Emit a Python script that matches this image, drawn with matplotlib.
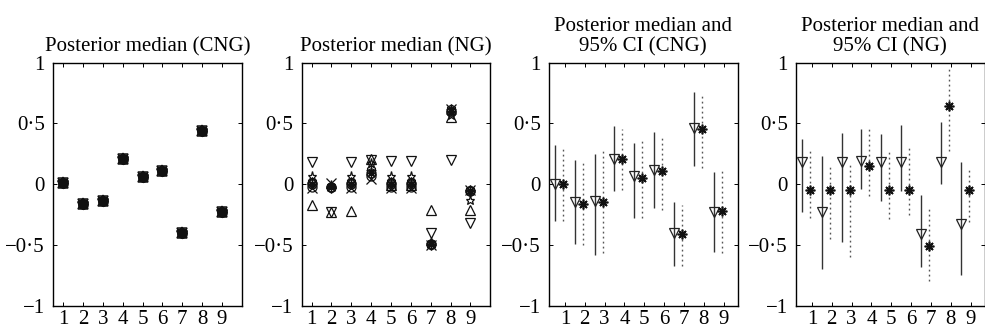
import numpy as np
import matplotlib
matplotlib.use("Agg")
import matplotlib.pyplot as plt
from matplotlib.ticker import FixedLocator, FixedFormatter

plt.rcParams['font.family'] = ['Liberation Serif', 'DejaVu Serif']
plt.rcParams['font.size'] = 15

# ---------------- data ----------------
positions = [1, 2, 3, 4, 5, 6, 7, 8, 9]
xtick_labels = ['1', '2', '3', '4', '5', '6', '7', '8', '9']
ytick_values = [-1, -0.5, 0, 0.5, 1]
ytick_labels = ['\u22121', '\u22120\u00b75', '0', '0\u00b75', '1']

titles = ['Posterior median (CNG)', 'Posterior median (NG)',
          'Posterior median and\n95% CI (CNG)', 'Posterior median and\n95% CI (NG)']

# Panel 1: CNG posterior medians (all marker series coincide)
cng_median = [0.01, -0.16, -0.14, 0.21, 0.06, 0.11, -0.40, 0.44, -0.23]

# Panel 2: NG posterior medians, one list per marker series
ng_vtri = [0.18, -0.23, 0.18, 0.20, 0.19, 0.19, -0.40, 0.20, -0.32]
ng_utri = [-0.17, -0.23, -0.22, 0.21, -0.01, -0.01, -0.21, 0.55, -0.21]
ng_pent = [0.07, -0.01, 0.07, 0.17, 0.07, 0.07, -0.48, 0.57, -0.13]
ng_circ = [0.00, -0.02, 0.00, 0.09, 0.00, 0.00, -0.49, 0.60, -0.06]
ng_hex = [0.02, -0.03, 0.02, 0.12, 0.02, 0.02, -0.50, 0.62, -0.05]
ng_diam = [-0.02, -0.02, -0.02, 0.07, -0.02, -0.02, -0.49, 0.59, -0.06]
ng_x = [-0.03, 0.01, -0.03, 0.04, -0.03, -0.03, -0.50, 0.62, -0.05]

# Panel 3: CNG medians and 95% CI (triangle = first method, asterisk = second)
cng_tri_med = [0.00, -0.15, -0.14, 0.21, 0.07, 0.12, -0.40, 0.46, -0.23]
cng_tri_lo = [-0.30, -0.49, -0.58, -0.06, -0.28, -0.20, -0.67, 0.15, -0.56]
cng_tri_hi = [0.32, 0.20, 0.25, 0.48, 0.34, 0.43, -0.15, 0.76, 0.10]
cng_ast_med = [0.00, -0.16, -0.15, 0.21, 0.05, 0.11, -0.41, 0.45, -0.22]
cng_ast_lo = [-0.30, -0.50, -0.57, -0.05, -0.28, -0.21, -0.67, 0.13, -0.57]
cng_ast_hi = [0.30, 0.20, 0.27, 0.45, 0.37, 0.39, -0.17, 0.73, 0.13]

# Panel 4: NG medians and 95% CI
ng_tri_med = [0.18, -0.23, 0.18, 0.19, 0.18, 0.18, -0.41, 0.18, -0.33]
ng_tri_lo = [-0.23, -0.70, -0.48, -0.04, -0.14, -0.06, -0.68, 0.00, -0.75]
ng_tri_hi = [0.37, 0.23, 0.42, 0.45, 0.41, 0.49, -0.09, 0.51, 0.18]
ng_ast_med = [-0.05, -0.05, -0.05, 0.15, -0.05, -0.05, -0.51, 0.64, -0.05]
ng_ast_lo = [-0.28, -0.45, -0.60, -0.10, -0.29, -0.25, -0.80, 0.27, -0.31]
ng_ast_hi = [0.27, 0.15, 0.16, 0.45, 0.26, 0.30, -0.19, 0.97, 0.13]

# ---------------- figure ----------------
W, H = 985, 332
fig = plt.figure(figsize=(W / 100, H / 100), dpi=100)
lefts_px = [53.3, 301.7, 549.0, 796.0]
width_px = 188.5
bottom_px = 26.3
height_px = 243.2

ASTER = (8, 2, 0)
axes = []
for i, lp in enumerate(lefts_px):
    ax = fig.add_axes([lp / W, bottom_px / H, width_px / W, height_px / H])
    axes.append(ax)
    ax.set_ylim(-1, 1)
    if i < 2:
        ax.set_xlim(0.5, 10)
    else:
        ax.set_xlim(0.2, 9.7)
    ax.xaxis.set_major_locator(FixedLocator(positions))
    ax.xaxis.set_major_formatter(FixedFormatter(xtick_labels))
    ax.yaxis.set_major_locator(FixedLocator(ytick_values))
    ax.yaxis.set_major_formatter(FixedFormatter(ytick_labels))
    ax.tick_params(direction='in', top=True, right=True, length=3, width=0.7,
                   labelsize=15)
    ax.tick_params(axis='y', pad=6)
    ax.tick_params(axis='x', pad=3)
    for s in ax.spines.values():
        s.set_linewidth(1.0)
    ax.set_title(titles[i], fontsize=15, pad=8, linespacing=1.05)

pos = np.array(positions, dtype=float)

# Panel 1
ax = axes[0]
for m, ms in [('o', 6.5), ('^', 7), ('v', 7), ('p', 7), ('h', 7),
              ('x', 6), ('+', 7), (ASTER, 7), ('*', 8)]:
    ax.plot(pos, cng_median, linestyle='none', marker=m, ms=ms,
            mfc='none', mec='#111111', mew=1.1)

# Panel 2
ax = axes[1]
series2 = [(ng_circ, 'o'), (ng_hex, 'h'), (ng_diam, 'o'), (ng_x, 'x'),
           (ng_circ, ASTER), (ng_hex, '+'), (ng_pent, '*'),
           (ng_vtri, 'v'), (ng_utri, '^')]
for vals, m in series2:
    ax.plot(pos, vals, linestyle='none', marker=m, ms=6.5,
            mfc='none', mec='#111111', mew=0.9)

# Panels 3 and 4
tri_off = -0.5
ast_off = -0.1
for ax, tmed, tlo, thi, amed, alo, ahi in [
        (axes[2], cng_tri_med, cng_tri_lo, cng_tri_hi, cng_ast_med, cng_ast_lo, cng_ast_hi),
        (axes[3], ng_tri_med, ng_tri_lo, ng_tri_hi, ng_ast_med, ng_ast_lo, ng_ast_hi)]:
    xt = pos + tri_off
    xa = pos + ast_off
    ax.vlines(xt, tlo, thi, colors='#333333', linewidth=1.0)
    ax.vlines(xa, alo, ahi, colors='#555555', linewidth=1.0,
              linestyles=[(0, (1.3, 2.3))])
    ax.plot(xt, tmed, linestyle='none', marker='v', ms=7.5, mfc='none',
            mec='#222222', mew=0.9)
    ax.plot(xa, amed, linestyle='none', marker=ASTER, ms=7, mfc='none',
            mec='#111111', mew=1.2)

fig.savefig('out.png', dpi=100)
